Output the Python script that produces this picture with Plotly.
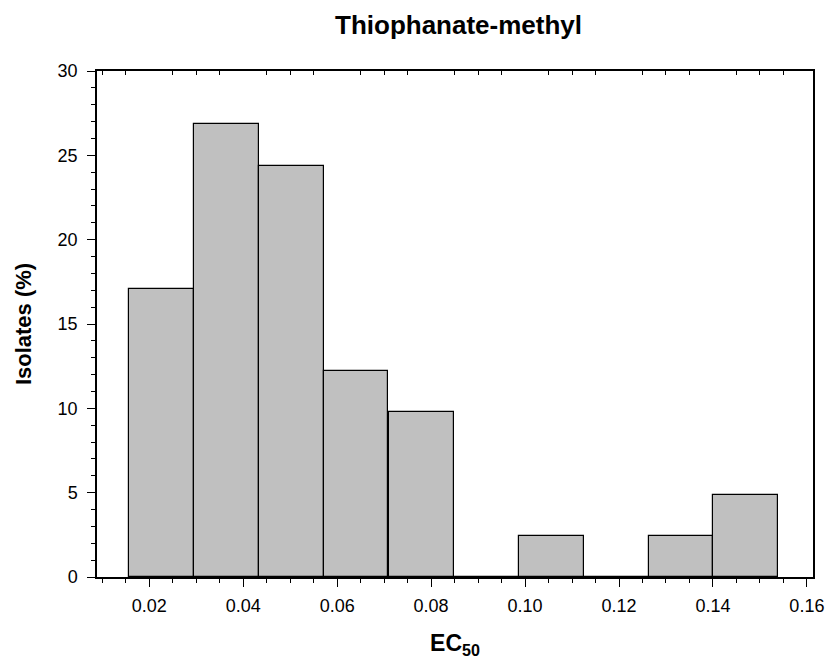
import plotly.graph_objects as go

# Data
bin_centers = [0.0226, 0.0364, 0.0502, 0.0640, 0.0779, 0.0917, 0.1056, 0.1194, 0.1332, 0.1470]
bin_width = 0.01382
isolates_pct = [17.07, 26.83, 24.39, 12.20, 9.76, 0.0, 2.44, 0.0, 2.44, 4.88]

x_tickvals = [0.02, 0.04, 0.06, 0.08, 0.10, 0.12, 0.14, 0.16]
x_ticktext = ["0.02", "0.04", "0.06", "0.08", "0.10", "0.12", "0.14", "0.16"]
y_tickvals = [0, 5, 10, 15, 20, 25, 30]
top_minor = [0.01, 0.015, 0.025, 0.03, 0.035, 0.045, 0.05, 0.055, 0.065, 0.07, 0.075,
             0.085, 0.09, 0.095, 0.105, 0.11, 0.115, 0.125, 0.13, 0.135, 0.145, 0.15, 0.155]

x_range = [0.00887, 0.1613]
y_range = [0, 30]

FONT = "Liberation Sans, Arial, sans-serif"

fig = go.Figure()
fig.add_trace(go.Bar(
    x=bin_centers, y=isolates_pct, width=[bin_width] * len(bin_centers),
    marker=dict(color="#c0c0c0", line=dict(color="black", width=1.2)),
    showlegend=False, hoverinfo="x+y",
))
# invisible trace to anchor the top tick axis
fig.add_trace(go.Scatter(x=[x_range[0]], y=[0], xaxis="x2", mode="markers",
                         marker=dict(opacity=0), showlegend=False, hoverinfo="skip"))

fig.update_layout(
    width=836, height=667,
    margin=dict(l=97, r=19, t=71, b=90),
    paper_bgcolor="white", plot_bgcolor="white",
    font=dict(family=FONT, color="black", size=18),
    bargap=0,
    title=dict(text="<b>Thiophanate-methyl</b>", x=0.5485, xanchor="center",
               y=0.962, yanchor="middle", font=dict(size=26, family=FONT)),
    xaxis=dict(
        range=x_range, tickvals=x_tickvals, ticktext=x_ticktext,
        ticks="outside", ticklen=8, tickwidth=1.3, tickcolor="black",
        minor=dict(dtick=0.005, tick0=0, ticks="outside", ticklen=4, tickwidth=1.3, tickcolor="black"),
        showline=True, linecolor="black", linewidth=1.5, mirror=True,
        showgrid=False, zeroline=False,
        tickfont=dict(size=18), ticklabelstandoff=4,
        title=dict(text="<b>EC<sub>50</sub></b>", font=dict(size=23), standoff=20),
    ),
    xaxis2=dict(
        range=x_range, overlaying="x", side="top", anchor="y",
        tickvals=top_minor, ticks="inside", ticklen=4, tickwidth=1.3, tickcolor="black",
        showticklabels=False, showgrid=False, zeroline=False, showline=False,
    ),
    yaxis=dict(
        range=y_range, tickvals=y_tickvals,
        ticks="outside", ticklen=8, tickwidth=1.3, tickcolor="black",
        minor=dict(dtick=1, tick0=0, ticks="outside", ticklen=4, tickwidth=1.3, tickcolor="black"),
        showline=True, linecolor="black", linewidth=1.5, mirror=True,
        showgrid=False, zeroline=False,
        tickfont=dict(size=18), ticklabelstandoff=6,
        title=dict(text="<b>Isolates (%)</b>", font=dict(size=22), standoff=20),
    ),
)

fig.write_html("out.html")
